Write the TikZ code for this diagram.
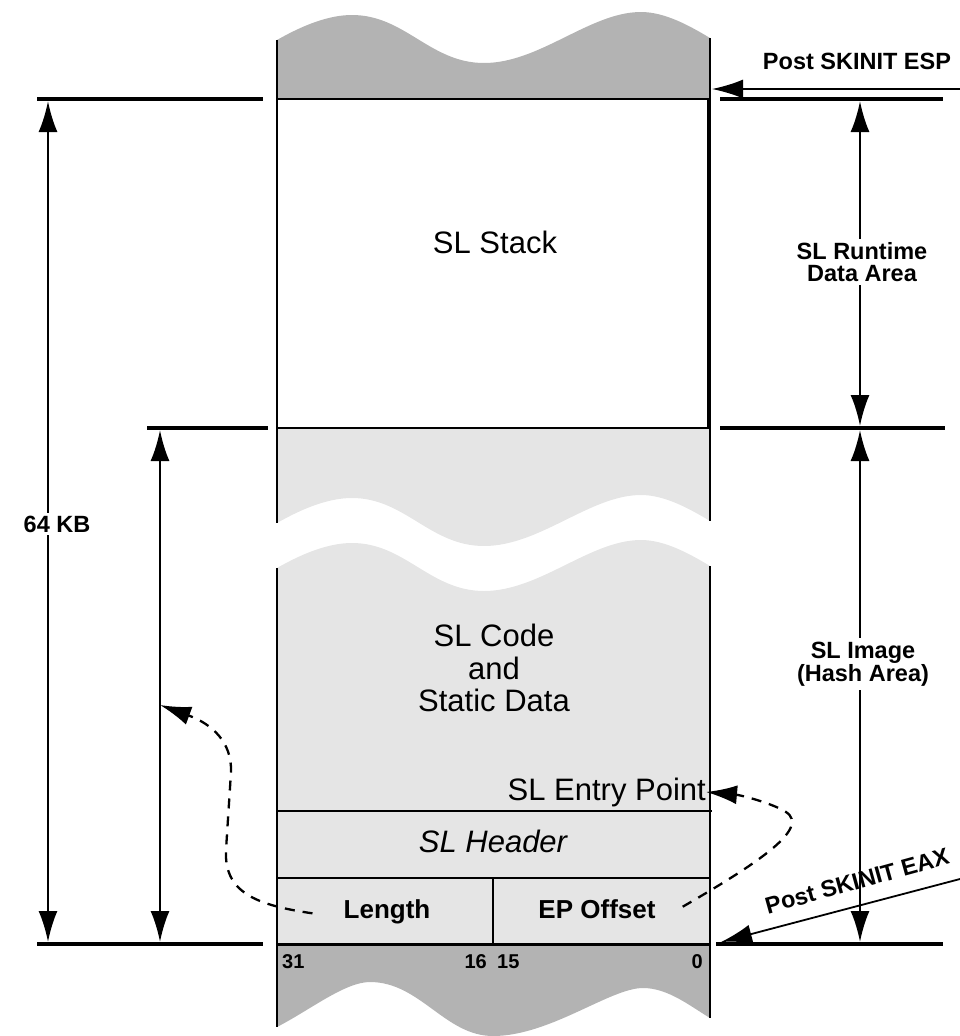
\documentclass[tikz,border=0pt]{standalone}
\usepackage{fontspec}
\setmainfont{Liberation Sans}
\usetikzlibrary{arrows.meta}
\definecolor{dgray}{HTML}{B3B3B3}
\definecolor{lgray}{HTML}{E5E5E5}
\begin{document}
\begin{tikzpicture}[x=1pt,y=-1pt,
  edge/.style={line width=2.3pt},
  dimline/.style={line width=3.2pt},
  bigtip/.tip={Latex[length=31pt,width=19pt]},
  dimarrow/.style={line width=2.5pt,bigtip-bigtip},
  ptrarrow/.style={line width=1.8pt,-bigtip},
  dasharrow/.style={line width=2.3pt,dash pattern=on 10pt off 8pt,-bigtip},
  bodytext/.style={font=\fontsize{31}{32.5}\selectfont,inner sep=0pt},
  boldlabel/.style={font=\fontsize{23.5}{21.5}\selectfont\bfseries,inner sep=0pt},
  fieldtext/.style={font=\fontsize{26}{28}\selectfont\bfseries,inner sep=0pt},
  bittext/.style={font=\fontsize{20}{22}\selectfont\bfseries,inner sep=0pt}]
\useasboundingbox (0,0) rectangle (960,1036);

% ---- fills ----
\fill[dgray] (277,99) -- (277,40) .. controls (305,24) and (330,15) .. (352,15)
  .. controls (405,15) and (430,63) .. (484,63)
  .. controls (540,63) and (590,12) .. (641,12)
  .. controls (665,12) and (690,26) .. (710,38) -- (710,99) -- cycle;
\fill[lgray] (277,428) -- (277,523) .. controls (305,507) and (330,498) .. (352,498)
  .. controls (405,498) and (430,546) .. (484,546)
  .. controls (540,546) and (590,495) .. (641,495)
  .. controls (665,495) and (690,509) .. (710,521) -- (710,428) -- cycle;
\fill[lgray] (277,944) -- (277,568) .. controls (305,552) and (330,543) .. (352,543)
  .. controls (405,543) and (430,591) .. (484,591)
  .. controls (540,591) and (590,540) .. (641,540)
  .. controls (665,540) and (690,554) .. (710,566) -- (710,944) -- cycle;
\fill[dgray] (277,944) -- (277,1027) .. controls (310,1010) and (345,982) .. (370,982)
  .. controls (420,982) and (445,1036) .. (493,1036)
  .. controls (550,1036) and (610,988) .. (643,988)
  .. controls (668,988) and (690,1006) .. (710,1018) -- (710,944) -- cycle;

% ---- column edges ----
\draw[edge] (277,40) -- (277,523);
\draw[edge] (710,38) -- (710,521);
\draw[edge] (277,568) -- (277,1027);
\draw[edge] (710,566) -- (710,1018);
\draw[edge] (277,99) -- (710,99);
\draw[edge] (277,428) -- (710,428);
\draw[line width=3.2pt] (709,99) -- (709,428);
\draw[edge] (277,811) -- (712,811);
\draw[edge] (277,878) -- (710,878);
\draw[line width=3pt] (277,944) -- (710,944);
\draw[edge] (493,878) -- (493,944);

% ---- dimension lines ----
\draw[dimline] (37,99) -- (263,99);
\draw[dimline] (720,99) -- (943,99);
\draw[dimline] (147,428) -- (268,428);
\draw[dimline] (720,428) -- (945,428);
\draw[dimline] (37,944) -- (263,944);
\draw[dimline] (716,944) -- (943,944);

% ---- coordinates ----
\coordinate (kbtop) at (48,101);
\coordinate (kbbot) at (48,942);
\coordinate (imgLtop) at (160,430);
\coordinate (imgLbot) at (160,942);
\coordinate (rtTop) at (860,101);
\coordinate (rtBot) at (860,426);
\coordinate (imgRtop) at (860,430);
\coordinate (imgRbot) at (860,942);
\coordinate (espStart) at (960,89);
\coordinate (espTip) at (712,89);
\coordinate (eaxStart) at (960,879);
\coordinate (eaxTip) at (721,942);

% ---- dimension arrows ----
\draw[dimarrow] (kbtop) -- (kbbot);
\draw[dimarrow] (imgLtop) -- (imgLbot);
\draw[dimarrow] (rtTop) -- (rtBot);
\draw[dimarrow] (imgRtop) -- (imgRbot);

\node[boldlabel,fill=white,inner sep=3pt] (kb) at (57,524) {64 KB};
\node[boldlabel,fill=white,inner sep=4pt,align=center] (rtlabel) at (862,262) {SL Runtime\\Data Area};
\node[boldlabel,fill=white,inner sep=4pt,align=center] (imglabel) at (863,664) {SL Image\\(Hash Area)};

% ---- pointers ----
\draw[ptrarrow] (espStart) -- (espTip);
\node[boldlabel,anchor=base] (esp) at (857,69) {Post SKINIT ESP};
\draw[ptrarrow] (eaxStart) -- (eaxTip);
\node[boldlabel,rotate=15.5] (eax) at (857,881) {Post SKINIT EAX};

% ---- texts ----
\node[bodytext,anchor=base] (stack) at (495,253) {SL Stack};
\node[bodytext,align=center] (code) at (494,668) {SL Code\\and\\Static Data};
\node[bodytext,anchor=base east] (entry) at (706,800) {SL Entry Point};
\node[bodytext,anchor=base,font=\fontsize{31}{32.5}\selectfont\itshape] (header) at (493,852) {SL Header};
\node[fieldtext,anchor=base] (length) at (387,918) {Length};
\node[fieldtext,anchor=base] (epoff) at (597,918) {EP Offset};
\node[bittext,anchor=base west] (b31) at (282,968) {31};
\node[bittext,anchor=base east] (b16) at (487,968) {16};
\node[bittext,anchor=base west] (b15) at (497,968) {15};
\node[bittext,anchor=base east] (b0) at (703,968) {0};

% ---- dashed arrows ----
\draw[dasharrow] ([xshift=-31pt,yshift=-2pt]length.west) .. controls (255,905) and (224,892) .. (226,850)
  -- (231,772) .. controls (232,742) and (212,724) .. (imgLtop |- 0,705);
\draw[dasharrow] ([xshift=27pt,yshift=2pt]epoff.east) .. controls (760,862) and (810,828) .. (786,812)
  .. controls (772,803) and (740,795) .. (entry.east);
\end{tikzpicture}
\end{document}
